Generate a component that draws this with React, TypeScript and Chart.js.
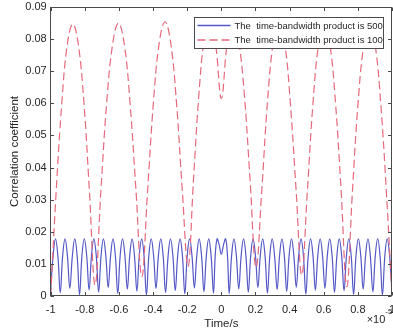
import React, { useEffect, useRef } from 'react';
import { Chart, registerables } from 'chart.js';

Chart.register(...registerables);

// ---------------- data ----------------
const seriesLabels = ['The  time-bandwidth product is 500', 'The  time-bandwidth product is 100'];
const xAxisTitle = 'Time/s';
const yAxisTitle = 'Correlation coefficient';
const xExponentBase = '\u00d710';
const xExponent = '-5';

const xTickValues = [-1, -0.8, -0.6, -0.4, -0.2, 0, 0.2, 0.4, 0.6, 0.8, 1];
const xTickLabels = ['-1', '-0.8', '-0.6', '-0.4', '-0.2', '0', '0.2', '0.4', '0.6', '0.8', '1'];
const yTickValues = [0, 0.01, 0.02, 0.03, 0.04, 0.05, 0.06, 0.07, 0.08, 0.09];
const yTickLabels = ['0', '0.01', '0.02', '0.03', '0.04', '0.05', '0.06', '0.07', '0.08', '0.09'];

// time-bandwidth product 500 (time in units of 1e-5 s)
const blueTime = [
  -1.000, -0.986, -0.972, -0.958,
  -0.944, -0.930, -0.916, -0.902,
  -0.888, -0.873, -0.859, -0.845,
  -0.831, -0.817, -0.803, -0.789,
  -0.775, -0.761, -0.747, -0.733,
  -0.719, -0.705, -0.691, -0.677,
  -0.663, -0.649, -0.635, -0.621,
  -0.607, -0.593, -0.579, -0.565,
  -0.551, -0.537, -0.523, -0.509,
  -0.495, -0.481, -0.467, -0.453,
  -0.439, -0.425, -0.411, -0.397,
  -0.383, -0.369, -0.355, -0.341,
  -0.327, -0.312, -0.298, -0.284,
  -0.270, -0.256, -0.242, -0.228,
  -0.214, -0.200, -0.186, -0.172,
  -0.158, -0.144, -0.130, -0.116,
  -0.102, -0.088, -0.074, -0.060,
  -0.046, -0.036, -0.025, -0.013,
  0.000, 0.013, 0.025, 0.036,
  0.046, 0.060, 0.074, 0.088,
  0.102, 0.116, 0.130, 0.144,
  0.158, 0.172, 0.186, 0.200,
  0.214, 0.228, 0.242, 0.256,
  0.270, 0.284, 0.298, 0.312,
  0.327, 0.341, 0.355, 0.369,
  0.383, 0.397, 0.411, 0.425,
  0.439, 0.453, 0.467, 0.481,
  0.495, 0.509, 0.523, 0.537,
  0.551, 0.565, 0.579, 0.593,
  0.607, 0.621, 0.635, 0.649,
  0.663, 0.677, 0.691, 0.705,
  0.719, 0.733, 0.747, 0.761,
  0.775, 0.789, 0.803, 0.817,
  0.831, 0.845, 0.859, 0.873,
  0.888, 0.902, 0.916, 0.930,
  0.944, 0.958, 0.972, 0.986,
  1.000,
];
const blueValue = [
  0.0018, 0.0125, 0.0178, 0.0125,
  0.0010, 0.0125, 0.0178, 0.0125,
  0.0024, 0.0125, 0.0178, 0.0125,
  0.0004, 0.0125, 0.0178, 0.0125,
  0.0019, 0.0125, 0.0178, 0.0125,
  0.0012, 0.0125, 0.0178, 0.0125,
  0.0026, 0.0125, 0.0178, 0.0125,
  0.0008, 0.0125, 0.0178, 0.0125,
  0.0021, 0.0125, 0.0178, 0.0125,
  0.0015, 0.0125, 0.0178, 0.0125,
  0.0003, 0.0125, 0.0178, 0.0125,
  0.0023, 0.0125, 0.0178, 0.0125,
  0.0011, 0.0125, 0.0178, 0.0125,
  0.0017, 0.0125, 0.0178, 0.0125,
  0.0007, 0.0125, 0.0178, 0.0125,
  0.0025, 0.0125, 0.0178, 0.0125,
  0.0013, 0.0125, 0.0178, 0.0125,
  0.0009, 0.0125, 0.0178, 0.0160,
  0.0130, 0.0160, 0.0178, 0.0125,
  0.0008, 0.0125, 0.0178, 0.0125,
  0.0022, 0.0125, 0.0178, 0.0125,
  0.0012, 0.0125, 0.0178, 0.0125,
  0.0026, 0.0125, 0.0178, 0.0125,
  0.0009, 0.0125, 0.0178, 0.0125,
  0.0020, 0.0125, 0.0178, 0.0125,
  0.0014, 0.0125, 0.0178, 0.0125,
  0.0027, 0.0125, 0.0178, 0.0125,
  0.0006, 0.0125, 0.0178, 0.0125,
  0.0018, 0.0125, 0.0178, 0.0125,
  0.0024, 0.0125, 0.0178, 0.0125,
  0.0011, 0.0125, 0.0178, 0.0125,
  0.0016, 0.0125, 0.0178, 0.0125,
  0.0005, 0.0125, 0.0178, 0.0125,
  0.0021, 0.0125, 0.0178, 0.0125,
  0.0013, 0.0125, 0.0178, 0.0125,
  0.0003, 0.0125, 0.0178, 0.0125,
  0.0012,
];

// time-bandwidth product 100
const redTime = [
  -1.000, -0.968, -0.935, -0.903, -0.870, -0.838, -0.805, -0.773,
  -0.740, -0.706, -0.672, -0.637, -0.603, -0.569, -0.535, -0.500,
  -0.466, -0.432, -0.398, -0.364, -0.330, -0.297, -0.263, -0.229,
  -0.195, -0.163, -0.131, -0.100, -0.068, -0.034,
  0.000, 0.034, 0.068, 0.100, 0.134, 0.168,
  0.203, 0.237, 0.270, 0.304, 0.337, 0.371, 0.404, 0.438,
  0.471, 0.504, 0.537, 0.570, 0.603, 0.636, 0.669, 0.702,
  0.735, 0.768, 0.801, 0.835, 0.868, 0.901, 0.934, 0.967, 1.000,
];
const redValue = [
  0.0000, 0.0325, 0.0600, 0.0783, 0.0847, 0.0783, 0.0600, 0.0325,
  0.0034, 0.0327, 0.0601, 0.0785, 0.0850, 0.0785, 0.0601, 0.0327,
  0.0060, 0.0330, 0.0603, 0.0789, 0.0854, 0.0789, 0.0603, 0.0330,
  0.0092, 0.0365, 0.0632, 0.0800, 0.0860, 0.0785,
  0.0615, 0.0785, 0.0860, 0.0800, 0.0632, 0.0365,
  0.0089, 0.0330, 0.0603, 0.0789, 0.0854, 0.0789, 0.0603, 0.0330,
  0.0065, 0.0327, 0.0601, 0.0785, 0.0850, 0.0785, 0.0601, 0.0327,
  0.0029, 0.0325, 0.0600, 0.0783, 0.0847, 0.0783, 0.0600, 0.0325, 0.0000,
];

// ---------------- styles ----------------
const FONT = "'Liberation Sans', Arial, Helvetica, sans-serif";
const TEXT_COLOR = '#262626';
const AXIS_COLOR = '#4a4a4a';
const BLUE = '#5559c6';
const RED = '#e6687b';
const RED_DASH = [8, 4];

const framePlugin = {
  id: 'matlabFrame',
  afterDatasetsDraw(chart: any) {
    const { ctx, chartArea: a, scales } = chart;
    const xs = scales.x;
    const ys = scales.y;
    const L = Math.floor(a.left) + 0.5;
    const R = Math.floor(a.right) - 0.5;
    const T = Math.floor(a.top) + 0.5;
    const B = Math.floor(a.bottom) - 0.5;
    ctx.save();
    ctx.strokeStyle = AXIS_COLOR;
    ctx.lineWidth = 1;
    ctx.setLineDash([]);
    ctx.strokeRect(L, T, R - L, B - T);
    const tl = 3.5;
    ctx.beginPath();
    xTickValues.forEach((v) => {
      const px = Math.round(xs.getPixelForValue(v)) + 0.5;
      ctx.moveTo(px, B);
      ctx.lineTo(px, B - tl);
      ctx.moveTo(px, T);
      ctx.lineTo(px, T + tl);
    });
    yTickValues.forEach((v) => {
      const py = Math.round(ys.getPixelForValue(v)) + 0.5;
      ctx.moveTo(L, py);
      ctx.lineTo(L + tl, py);
      ctx.moveTo(R, py);
      ctx.lineTo(R - tl, py);
    });
    ctx.stroke();

    // legend (opaque, inside the axes, top-right)
    const lw = 189;
    const lh = 31;
    const lx = Math.round(a.right - 198) + 0.5;
    const ly = Math.round(a.top + 10) + 0.5;
    ctx.fillStyle = '#ffffff';
    ctx.fillRect(lx, ly, lw, lh);
    ctx.strokeStyle = AXIS_COLOR;
    ctx.strokeRect(lx, ly, lw, lh);
    const rows = [ly + 8, ly + 22.5];
    const colors = [BLUE, RED];
    const dashes = [[], RED_DASH];
    rows.forEach((ry, i) => {
      ctx.strokeStyle = colors[i];
      ctx.lineWidth = 1.3;
      ctx.setLineDash(dashes[i]);
      ctx.beginPath();
      ctx.moveTo(lx + 3, ry);
      ctx.lineTo(lx + 36, ry);
      ctx.stroke();
      ctx.setLineDash([]);
      ctx.fillStyle = TEXT_COLOR;
      ctx.font = `9.5px ${FONT}`;
      ctx.textAlign = 'left';
      ctx.textBaseline = 'middle';
      ctx.fillText(seriesLabels[i], lx + 40, ry + 0.5);
    });

    // x exponent
    ctx.fillStyle = TEXT_COLOR;
    ctx.textAlign = 'left';
    ctx.textBaseline = 'alphabetic';
    ctx.font = `11px ${FONT}`;
    const ex = a.right - 25.3;
    const ey = a.bottom + 27;
    ctx.fillText(xExponentBase, ex, ey);
    const w = ctx.measureText(xExponentBase).width;
    ctx.font = `8px ${FONT}`;
    ctx.fillText(xExponent, ex + w, ey - 9.5);
    ctx.restore();
  },
};

export default function App() {
  const ref = useRef<HTMLCanvasElement | null>(null);

  useEffect(() => {
    const canvas = ref.current;
    if (!canvas) return;
    const chart = new Chart(canvas, {
      type: 'line',
      data: {
        datasets: [
          {
            label: seriesLabels[0],
            data: blueTime.map((t, i) => ({ x: t, y: blueValue[i] })),
            borderColor: BLUE,
            borderWidth: 1.2,
            pointRadius: 0,
            tension: 0.4,
            fill: false,
            order: 2,
          },
          {
            label: seriesLabels[1],
            data: redTime.map((t, i) => ({ x: t, y: redValue[i] })),
            borderColor: RED,
            borderWidth: 1.2,
            borderDash: RED_DASH,
            pointRadius: 0,
            tension: 0.4,
            fill: false,
            order: 1,
          },
        ],
      },
      options: {
        responsive: false,
        animation: false,
        devicePixelRatio: 1,
        layout: { padding: { top: 7, right: 1, left: 0, bottom: 0 } },
        plugins: { legend: { display: false }, tooltip: { enabled: false } },
        scales: {
          x: {
            type: 'linear',
            min: -1,
            max: 1,
            afterBuildTicks: (s: any) => {
              s.ticks = xTickValues.map((v) => ({ value: v }));
            },
            afterFit: (s: any) => {
              s.height = 35;
              s.paddingLeft = 0;
              s.paddingRight = 0;
            },
            grid: { display: false, drawTicks: false },
            border: { display: false },
            ticks: {
              padding: 7,
              autoSkip: false,
              maxRotation: 0,
              color: TEXT_COLOR,
              font: { family: FONT, size: 11 },
              callback: (v: any) => {
                const i = xTickValues.indexOf(Number(v));
                return i >= 0 ? xTickLabels[i] : '';
              },
            },
            title: {
              display: true,
              text: xAxisTitle,
              color: TEXT_COLOR,
              font: { family: FONT, size: 11.5 },
              padding: { top: 0, bottom: 0 },
            },
          },
          y: {
            type: 'linear',
            min: 0,
            max: 0.09,
            afterBuildTicks: (s: any) => {
              s.ticks = yTickValues.map((v) => ({ value: v }));
            },
            afterFit: (s: any) => {
              s.width = 50.7;
              s.paddingTop = 0;
              s.paddingBottom = 0;
            },
            grid: { display: false, drawTicks: false },
            border: { display: false },
            ticks: {
              padding: 4,
              autoSkip: false,
              color: TEXT_COLOR,
              font: { family: FONT, size: 11 },
              callback: (v: any) => {
                const i = yTickValues.indexOf(Number(v));
                return i >= 0 ? yTickLabels[i] : '';
              },
            },
            title: {
              display: true,
              text: yAxisTitle,
              color: TEXT_COLOR,
              font: { family: FONT, size: 11.5 },
              padding: { top: 8, bottom: 0 },
            },
          },
        },
      },
      plugins: [framePlugin],
    });
    return () => chart.destroy();
  }, []);

  return (
    <div style={{ position: 'fixed', left: 0, top: 0, width: 393, height: 331, background: '#fff' }}>
      <canvas ref={ref} width={393} height={331} style={{ display: 'block', width: 393, height: 331 }} />
    </div>
  );
}
